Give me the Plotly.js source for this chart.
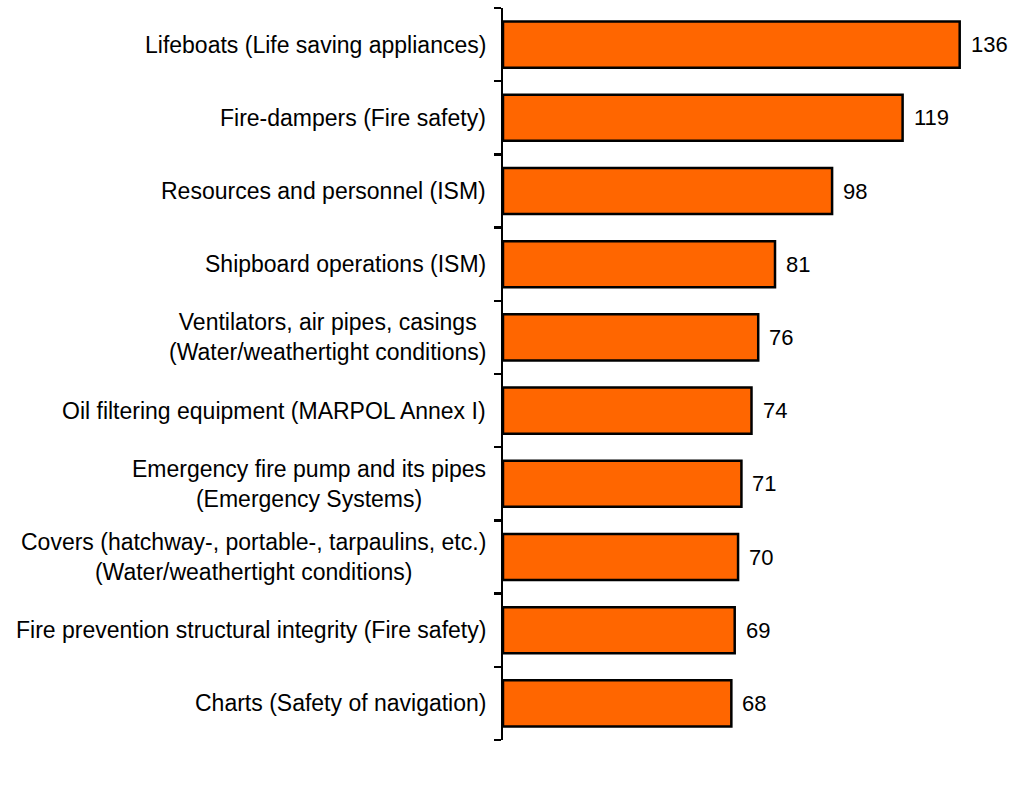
<!DOCTYPE html>
<html>
<head>
<meta charset="utf-8">
<script src="https://cdn.plot.ly/plotly-3.0.1.min.js"></script>
<style>html,body{margin:0;padding:0;background:#fff;}#chart{width:1024px;height:799px;}</style>
</head>
<body>
<div id="chart"></div>
<script>
const categories = [
  "Lifeboats (Life saving appliances)",
  "Fire-dampers (Fire safety)",
  "Resources and personnel (ISM)",
  "Shipboard operations (ISM)",
  "Ventilators, air pipes, casings<br>(Water/weathertight conditions)",
  "Oil filtering equipment (MARPOL Annex I)",
  "Emergency fire pump and its pipes<br>(Emergency Systems)",
  "Covers (hatchway-, portable-, tarpaulins, etc.)<br>(Water/weathertight conditions)",
  "Fire prevention structural integrity (Fire safety)",
  "Charts (Safety of navigation)"
];
const values = [136, 119, 98, 81, 76, 74, 71, 70, 69, 68];

const catFont = {family: "Liberation Sans, Arial, sans-serif", size: 23, color: "#000"};
const valFont = {family: "Liberation Sans, Arial, sans-serif", size: 22, color: "#000"};

const idx = categories.map((_, i) => i);
const boundaries = categories.concat([""]).map((_, i) => i - 0.5);

const trace = {
  type: "bar",
  orientation: "h",
  x: values,
  y: idx,
  width: 0.63,
  marker: {color: "#FF6600", line: {color: "#000", width: 2.5}},
  hoverinfo: "none"
};

const annotations = [];
categories.forEach((c, i) => {
  annotations.push({
    xref: "paper", yref: "y", x: 0, y: i, text: c,
    xanchor: "right", yanchor: "middle", align: "center",
    xshift: -15, showarrow: false, font: catFont
  });
  annotations.push({
    xref: "x", yref: "y", x: values[i], y: i, text: String(values[i]),
    xanchor: "left", yanchor: "middle", xshift: 9, showarrow: false, font: valFont
  });
});

const layout = {
  width: 1024, height: 799,
  margin: {l: 503, r: 24, t: 8, b: 59},
  paper_bgcolor: "#fff", plot_bgcolor: "#fff",
  showlegend: false,
  font: catFont,
  xaxis: {range: [0, 148], visible: false, fixedrange: true},
  yaxis: {
    range: [categories.length - 0.5, -0.5],
    showline: true, linecolor: "#000", linewidth: 2.5,
    tickmode: "array", tickvals: boundaries,
    ticks: "outside", ticklen: 7, tickwidth: 2.5, tickcolor: "#000",
    showticklabels: false, showgrid: false, zeroline: false, fixedrange: true
  },
  annotations: annotations
};

Plotly.newPlot("chart", [trace], layout, {displayModeBar: false, staticPlot: true});
</script>
</body>
</html>
